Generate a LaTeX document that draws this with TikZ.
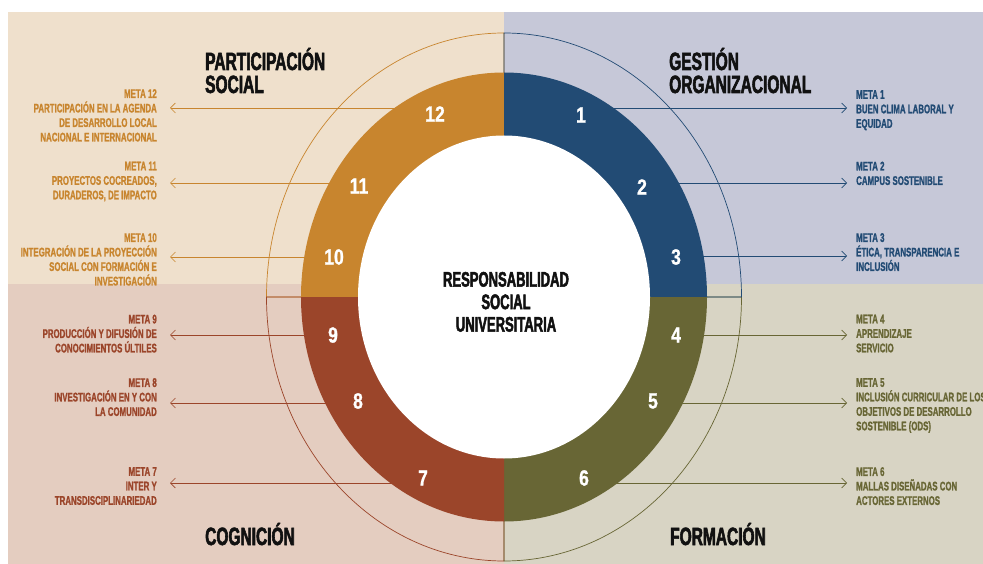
\documentclass[tikz,border=0pt]{standalone}
\usepackage{fontspec}
\usepackage{tikz}
\usetikzlibrary{arrows.meta}
\newfontfamily\condfont{Liberation Sans}[FakeStretch=0.63,FakeBold=1.2]
\newfontfamily\headfont{Liberation Sans}[FakeStretch=0.62,FakeBold=2.2]
\newfontfamily\numfont{Liberation Sans}[FakeStretch=0.8,FakeBold=1]
\definecolor{rsu_orange}{HTML}{C8852E}
\definecolor{rsu_blue}{HTML}{224B74}
\definecolor{rsu_red}{HTML}{9B452A}
\definecolor{rsu_olive}{HTML}{686635}
\definecolor{bg_orange}{HTML}{EFE0CC}
\definecolor{bg_blue}{HTML}{C6C8D8}
\definecolor{bg_red}{HTML}{E4CDC0}
\definecolor{bg_olive}{HTML}{D8D4C4}
\definecolor{rsu_ink}{HTML}{111111}
\pgfdeclarelayer{bg}
\pgfsetlayers{bg,main}
\tikzset{
  metaL/.style={anchor=north east, align=right, inner sep=0pt, font=\condfont\bfseries\fontsize{12.5}{14.5}\selectfont},
  metaR/.style={anchor=north west, align=left, inner sep=0pt, font=\condfont\bfseries\fontsize{12.5}{14.5}\selectfont},
  header/.style={text=rsu_ink, inner sep=0pt, align=left, font=\headfont\bfseries\fontsize{25}{22.5}\selectfont},
  num/.style={text=white, inner sep=0pt, font=\numfont\bfseries\fontsize{22}{22}\selectfont},
  goal/.style={line width=0.7pt, -{Straight Barb[length=5pt,width=10pt]}},
  rim/.style={line width=0.7pt}
}

\begin{document}
\begin{tikzpicture}[x=1pt,y=-1pt]
    \useasboundingbox (0,0) rectangle (983,564);
    \coordinate (C) at (504,297);

    \begin{pgfonlayer}{bg}
        \fill[white] (0,0) rectangle (983,564);
        \fill[bg_orange] (8,12) rectangle (504,284);
        \fill[bg_blue] (504,12) rectangle (983,284);
        \fill[bg_red] (8,284) rectangle (504,564);
        \fill[bg_olive] (504,284) rectangle (983,564);

        % thin outer ring
        \draw[rim, rsu_orange] (C) -- ++(0,-264) arc[start angle=270, end angle=180, x radius=237.5, y radius=264] -- cycle;
        \draw[rim, rsu_red] (C) -- ++(0,264) arc[start angle=90, end angle=180, x radius=237.5, y radius=264] -- cycle;
        \draw[rim, rsu_olive] (C) -- ++(237.5,0) arc[start angle=0, end angle=90, x radius=237.5, y radius=264] -- cycle;
        \draw[rim, rsu_blue] (C) -- ++(0,-264) arc[start angle=270, end angle=360, x radius=237.5, y radius=264] -- cycle;
    \end{pgfonlayer}

    % coloured ring
    \fill[rsu_orange] (C) -- ++(0,-224.5) arc[start angle=270, end angle=180, x radius=203, y radius=224.5] -- cycle;
    \fill[rsu_blue] (C) -- ++(0,-224.5) arc[start angle=270, end angle=360, x radius=203, y radius=224.5] -- cycle;
    \fill[rsu_olive] (C) -- ++(203,0) arc[start angle=0, end angle=90, x radius=203, y radius=224.5] -- cycle;
    \fill[rsu_red] (C) -- ++(0,224.5) arc[start angle=90, end angle=180, x radius=203, y radius=224.5] -- cycle;
    \fill[white] (C) ellipse[x radius=146, y radius=161.5];

    \node[num] (n1) at (581,115) {1};
    \node[num] (n2) at (642,187) {2};
    \node[num] (n3) at (676,257) {3};
    \node[num] (n4) at (676,335) {4};
    \node[num] (n5) at (653,401) {5};
    \node[num] (n6) at (584,478) {6};
    \node[num] (n7) at (423,478) {7};
    \node[num] (n8) at (358,401) {8};
    \node[num] (n9) at (333,335) {9};
    \node[num] (n10) at (334,257) {10};
    \node[num] (n11) at (359,186) {11};
    \node[num] (n12) at (435,114) {12};

    \node[header, align=center, anchor=south, font=\headfont\bfseries\fontsize{21}{22.5}\selectfont] (rsu) at (506,332) {RESPONSABILIDAD\\SOCIAL\\UNIVERSITARIA};

    \node[header, anchor=base west] (hPS) at (205,70) {PARTICIPACIÓN};
    \node[header, anchor=base west] (hPS2) at (205,93) {SOCIAL};
    \node[header, anchor=base west] (hGO) at (669,70) {GESTIÓN};
    \node[header, anchor=base west] (hGO2) at (669,93) {ORGANIZACIONAL};
    \node[header, anchor=base west] (hCO) at (205,545) {COGNICIÓN};
    \node[header, anchor=base west] (hFO) at (670,545) {FORMACIÓN};

    % metas, left
    \node[metaL, rsu_orange] (m12) at (157,89) {META 12\\PARTICIPACIÓN EN LA AGENDA\\DE DESARROLLO LOCAL\\NACIONAL E INTERNACIONAL};
    \node[metaL, rsu_orange] (m11) at (157,161.5) {META 11\\PROYECTOS COCREADOS,\\DURADEROS, DE IMPACTO};
    \node[metaL, rsu_orange] (m10) at (157,233) {META 10\\INTEGRACIÓN DE LA PROYECCIÓN\\SOCIAL CON FORMACIÓN E\\INVESTIGACIÓN};
    \node[metaL, rsu_red] (m9) at (157,314.5) {META 9\\PRODUCCIÓN Y DIFUSIÓN DE\\CONOCIMIENTOS ÚLTILES};
    \node[metaL, rsu_red] (m8) at (157,378) {META 8\\INVESTIGACIÓN EN Y CON\\LA COMUNIDAD};
    \node[metaL, rsu_red] (m7) at (157,467) {META 7\\INTER Y\\TRANSDISCIPLINARIEDAD};
    % metas, right
    \node[metaR, rsu_blue] (m1) at (856,90) {META 1\\BUEN CLIMA LABORAL Y\\EQUIDAD};
    \node[metaR, rsu_blue] (m2) at (856,161.5) {META 2\\CAMPUS SOSTENIBLE};
    \node[metaR, rsu_blue] (m3) at (856,233) {META 3\\ÉTICA, TRANSPARENCIA E\\INCLUSIÓN};
    \node[metaR, rsu_olive] (m4) at (856,314.5) {META 4\\APRENDIZAJE\\SERVICIO};
    \node[metaR, rsu_olive] (m5) at (856,378) {META 5\\INCLUSIÓN CURRICULAR DE LOS\\OBJETIVOS DE DESARROLLO\\SOSTENIBLE (ODS)};
    \node[metaR, rsu_olive] (m6) at (856,467) {META 6\\MALLAS DISEÑADAS CON\\ACTORES EXTERNOS};

    \coordinate (t12) at (170,108);
    \coordinate (t11) at (170,183);
    \coordinate (t10) at (170,257);
    \coordinate (t9) at (170,335);
    \coordinate (t8) at (170,403);
    \coordinate (t7) at (170,483);
    \coordinate (t1) at (847,108);
    \coordinate (t2) at (847,183);
    \coordinate (t3) at (847,256);
    \coordinate (t4) at (847,335);
    \coordinate (t5) at (847,403);
    \coordinate (t6) at (847,483);

    \begin{pgfonlayer}{bg}
        \draw[goal, rsu_orange] (n12 |- t12) -- (t12);
        \draw[goal, rsu_orange] (n11 |- t11) -- (t11);
        \draw[goal, rsu_orange] (n10 |- t10) -- (t10);
        \draw[goal, rsu_red] (n9 |- t9) -- (t9);
        \draw[goal, rsu_red] (n8 |- t8) -- (t8);
        \draw[goal, rsu_red] (n7 |- t7) -- (t7);
        \draw[goal, rsu_blue] (n1 |- t1) -- (t1);
        \draw[goal, rsu_blue] (n2 |- t2) -- (t2);
        \draw[goal, rsu_blue] (n3 |- t3) -- (t3);
        \draw[goal, rsu_olive] (n4 |- t4) -- (t4);
        \draw[goal, rsu_olive] (n5 |- t5) -- (t5);
        \draw[goal, rsu_olive] (n6 |- t6) -- (t6);
    \end{pgfonlayer}
\end{tikzpicture}
\end{document}
